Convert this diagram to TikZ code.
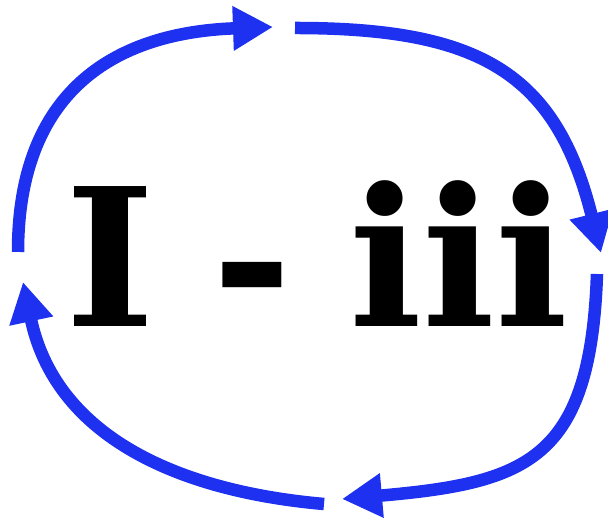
\documentclass[tikz,border=0pt]{standalone}
\usepackage{fontspec}
\setmainfont{DejaVu Serif}
\newfontfamily\titlefont{DejaVu Serif}[WordSpace=0.86]
\usepackage{tikz}
\usetikzlibrary{arrows.meta}
\definecolor{cycleblue}{RGB}{30,48,240}
\tikzset{
  cyclearrow/.style={-{Triangle[length=40pt, width=42pt]}, line width=12.5pt, color=cycleblue},
  titlebox/.style={inner sep=0pt, font=\titlefont\fontsize{192}{192}\selectfont\bfseries}
}

\begin{document}
\begin{tikzpicture}[x=1pt, y=1pt]
  \useasboundingbox (0,0) rectangle (608,518);
  \node[titlebox, anchor=base] (title) at (317,191) {I - iii};

  \coordinate (w1) at (18,266);
  \coordinate (n1) at (273,491);
  \coordinate (n2) at (295,490);
  \coordinate (e1) at (601,265);
  \coordinate (e2) at (597,244);
  \coordinate (s1) at (342,19);
  \coordinate (s2) at (324,14);
  \coordinate (w2) at (23,236);

  \draw[cyclearrow] (w1) to[out=90, in=182, looseness=1.2] (n1);
  \draw[cyclearrow] (n2) to[out=0, in=104, looseness=1.25] (e1);
  \draw[cyclearrow] (e2) to[out=-92, in=5, looseness=1.4] (s1);
  \draw[cyclearrow] (s2) to[out=175, in=-78, looseness=1.05] (w2);
\end{tikzpicture}
\end{document}
